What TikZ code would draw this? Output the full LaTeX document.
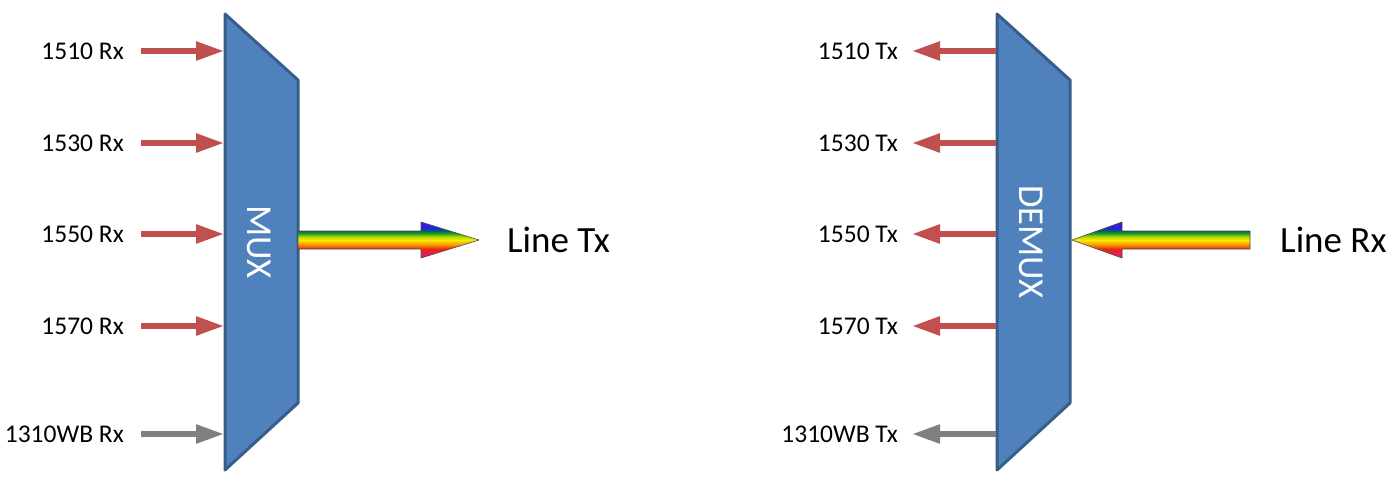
\documentclass[tikz,border=0pt]{standalone}
\usepackage{fontspec}
\setmainfont{Carlito}
\usetikzlibrary{arrows.meta}
\definecolor{boxfill}{RGB}{79,129,189}
\definecolor{boxline}{RGB}{56,93,138}
\definecolor{chred}{RGB}{192,80,77}
\definecolor{chgrey}{RGB}{128,128,128}
\definecolor{rbmag}{RGB}{235,20,140}
\definecolor{rbred}{RGB}{225,40,20}
\definecolor{rbora}{RGB}{250,140,0}
\definecolor{rbyel}{RGB}{250,235,0}
\definecolor{rbygr}{RGB}{170,215,0}
\definecolor{rbgrn}{RGB}{30,160,40}
\definecolor{rbteal}{RGB}{10,100,80}
\definecolor{rbblu}{RGB}{20,40,230}
\definecolor{rbvio}{RGB}{120,0,220}
\pgfdeclareverticalshading{rainbow}{100bp}{color(0bp)=(rbmag); color(25bp)=(rbmag); color(37.5bp)=(rbred); color(43bp)=(rbora); color(50bp)=(rbyel); color(55bp)=(rbygr); color(59bp)=(rbgrn); color(62.5bp)=(rbteal); color(67bp)=(rbblu); color(75bp)=(rbvio); color(100bp)=(rbvio)}
\begin{document}
\begin{tikzpicture}[x=1pt,y=-1pt,
  trap/.style={fill=boxfill,draw=boxline,line width=3pt,line join=round},
  lab/.style={inner sep=0pt,anchor=east,font=\fontsize{25.5}{30}\selectfont},
  big/.style={inner sep=0pt,font=\fontsize{37}{44}\selectfont},
  boxlab/.style={inner sep=0pt,text=white,rotate=-90,font=\fontsize{36.5}{44}\selectfont},
  chan/.style={line width=5.5pt,draw=chred,-{Triangle[length=28pt,width=18pt,fill=chred]}},
  wb/.style={chan,draw=chgrey,-{Triangle[length=28pt,width=18pt,fill=chgrey]}},
  rb/.style={shading=rainbow,draw=black!70,line width=0.6pt,line join=miter}]
\useasboundingbox (0,0) rectangle (1400,491);
% MUX box
\coordinate (mtl) at (225,14);
\coordinate (mtr) at (298,80);
\coordinate (mbr) at (298,403);
\coordinate (mbl) at (225,470);
\draw[trap] (mtl) -- (mtr) -- (mbr) -- (mbl) -- cycle;
\node[boxlab] (mux) at (259,242) {MUX};
% DEMUX box
\coordinate (dtl) at (997,14);
\coordinate (dtr) at (1070,80);
\coordinate (dbr) at (1070,403);
\coordinate (dbl) at (997,470);
\draw[trap] (dtl) -- (dtr) -- (dbr) -- (dbl) -- cycle;
\node[boxlab] (demux) at (1031,242) {DEMUX};
% MUX inputs
\foreach \n/\y/\t/\s in {1/51/1510 Rx/chan,2/143/1530 Rx/chan,3/234/1550 Rx/chan,4/326/1570 Rx/chan,5/434/1310WB Rx/wb}{
  \node[lab] (rx\n) at (124,\y+0.5) {\t};
  \coordinate (mi\n) at (224,\y);
  \coordinate (ms\n) at (141,\y);
  \draw[\s] (ms\n) -- (mi\n);
}
% DEMUX outputs
\foreach \n/\y/\t/\s in {1/51/1510 Tx/chan,2/143/1530 Tx/chan,3/234/1550 Tx/chan,4/326/1570 Tx/chan,5/434/1310WB Tx/wb}{
  \node[lab] (tx\n) at (898,\y+0.5) {\t};
  \coordinate (do\n) at (996,\y);
  \coordinate (de\n) at (912,\y);
  \draw[\s] (do\n) -- (de\n);
}
% Line Tx rainbow arrow
\coordinate (lt) at (479,240);
\path[rb] (298,231) -- (421,231) -- (421,222) -- (lt) -- (421,258) -- (421,249) -- (298,249) -- cycle;
\node[big,anchor=west] (linetx) at (507,240) {Line Tx};
% Line Rx rainbow arrow
\coordinate (lr) at (1072,240);
\path[rb] (1250,231) -- (1122,231) -- (1122,222) -- (lr) -- (1122,258) -- (1122,249) -- (1250,249) -- cycle;
\node[big,anchor=west] (linerx) at (1280,240) {Line Rx};
\end{tikzpicture}
\end{document}
